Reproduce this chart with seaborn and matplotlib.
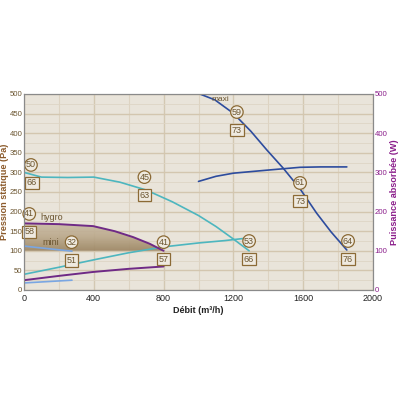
import numpy as np
import pandas as pd
import matplotlib
matplotlib.use("Agg")
import matplotlib.pyplot as plt
import seaborn as sns
from matplotlib.patches import Polygon

# ---- data ----
hp_x = [0, 100, 250, 400, 550, 700, 850, 1000, 1100, 1200, 1290]
hp_y = [300, 288, 287, 288, 275, 255, 225, 190, 162, 130, 100]

lp_x = [0, 200, 400, 600, 800, 1000, 1150, 1270]
lp_y = [40, 58, 77, 95, 110, 120, 126, 132]

maxi_x = [1008, 1094, 1199, 1300, 1392, 1485, 1582, 1677, 1760, 1850]
maxi_y = [500, 485, 451, 405, 357, 311, 258, 196, 148, 102]

pmax_x = [1000, 1100, 1200, 1400, 1582, 1700, 1850]
pmax_y = [277, 290, 298, 306, 313, 314, 314]

hygro_x = [0, 200, 396, 520, 625, 720, 800]
hygro_y = [170, 168, 163, 150, 135, 118, 100]

mini_x = [0, 275]
mini_y = [112, 99]

plow_x = [0, 200, 396, 600, 800]
plow_y = [25, 36, 46, 54, 60]

lblow_x = [0, 275]
lblow_y = [18, 25]

circle_labels = ["50", "41", "32", "45", "41", "53", "59", "61", "64"]
circle_x = [40, 30, 273, 690, 800, 1290, 1220, 1582, 1857]
circle_y = [319, 194, 122, 288, 122, 125, 454, 273, 125]

box_labels = ["66", "58", "51", "63", "57", "66", "73", "73", "76"]
box_x = [46, 30, 273, 690, 800, 1290, 1220, 1582, 1857]
box_y = [273, 148, 76, 242, 79, 79, 408, 227, 79]

x_ticks = [0, 400, 800, 1200, 1600, 2000]
y_ticks = [0, 50, 100, 150, 200, 250, 300, 350, 400, 450, 500]
y2_ticks = [0, 100, 200, 300, 400, 500]

# ---- figure ----
sns.set_theme(style="white")
plt.rcParams['font.family'] = ['Liberation Sans', 'DejaVu Sans']

fig = plt.figure(figsize=(4, 4), dpi=100)
fig.patch.set_facecolor("white")
ax = fig.add_axes([0.06, 0.275, 0.8725, 0.49])
ax.set_facecolor("#E9E4DA")
ax.set_xlim(0, 2000)
ax.set_ylim(0, 500)

# grid
for v in range(0, 2001, 200):
    ax.axvline(v, color="#DDD3C2" if v % 400 else "#D3C8B2", lw=0.8 if v % 400 else 1.0, zorder=0)
for h in range(0, 501, 25):
    ax.axhline(h, color="#DED5C5" if h % 50 else "#D3C6AF", lw=0.6 if h % 50 else 1.0, zorder=0)

# shaded area with vertical gradient
hx = np.array(hygro_x, float)
hy = np.array(hygro_y, float)
verts = list(zip(hx, hy)) + [(hx[-1], 100), (0, 100)]
poly = Polygon(verts, closed=True, facecolor="none", edgecolor="none")
ax.add_patch(poly)
grad = np.linspace(0, 1, 256).reshape(-1, 1)
cmap = matplotlib.colors.LinearSegmentedColormap.from_list("g", ["#9C8562", "#BBA98C", "#CBBDA6"])
im = ax.imshow(grad, extent=[0, 800, 100, 172], aspect="auto", cmap=cmap, zorder=1,
               origin="lower", alpha=0.92)
im.set_clip_path(poly)

def line(xs, ys, color, lw=1.2):
    df = pd.DataFrame({"x": xs, "y": ys})
    sns.lineplot(data=df, x="x", y="y", ax=ax, color=color, lw=lw, sort=False, zorder=3)

cyan = "#4DB6BF"
dblue = "#2D4C9E"
purple = "#6F2A86"
lblue = "#7AA6E2"
line(hp_x, hp_y, cyan)
line(lp_x, lp_y, cyan)
line(maxi_x, maxi_y, dblue)
line(pmax_x, pmax_y, dblue)
line(hygro_x, hygro_y, purple, 1.4)
line(mini_x, mini_y, lblue)
line(plow_x, plow_y, purple, 1.4)
line(lblow_x, lblow_y, lblue)

brown = "#8B6A35"
for t, x, y in zip(circle_labels, circle_x, circle_y):
    ax.text(x, y, t, ha="center", va="center", fontsize=6.5, color="#6B5530", zorder=5,
            bbox=dict(boxstyle="circle,pad=0.14", fc="#EFEAE0", ec=brown, lw=0.9))
for t, x, y in zip(box_labels, box_x, box_y):
    ax.text(x, y, t, ha="center", va="center", fontsize=6.5, color="#6B5530", zorder=5,
            bbox=dict(boxstyle="square,pad=0.2", fc="#EFEAE0", ec=brown, lw=0.9))

ax.text(160, 186, "hygro", fontsize=6.5, color="#6B5530", ha="center", va="center", zorder=5)
ax.text(155, 120, "mini", fontsize=6.5, color="#6B5530", ha="center", va="center", zorder=5)
ax.text(1123, 487, "maxi", fontsize=6, color="#6B5530", ha="center", va="center", zorder=5)

ax.set_xticks(x_ticks)
ax.set_yticks(y_ticks)
ax.tick_params(axis="x", labelsize=6.5, length=0, pad=3, colors="#222222")
ax.tick_params(axis="y", labelsize=5.6, length=0, pad=1.2, colors="#6B5530")
ax.set_xlabel("Débit (m³/h)", fontsize=6.5, fontweight="bold", color="#222222", labelpad=2)
ax.set_ylabel("Pression statique (Pa)", fontsize=6.6, fontweight="bold", color="#8B5A2B")
ax.yaxis.set_label_coords(-0.044, 0.5)
for s in ax.spines.values():
    s.set_color("#8A8A8A")
    s.set_linewidth(0.8)

ax2 = ax.twinx()
ax2.set_ylim(0, 500)
ax2.set_yticks(y2_ticks)
ax2.tick_params(axis="y", labelsize=5.6, length=0, pad=1.2, colors="#8B1E8B")
ax2.set_ylabel("Puissance absorbée (W)", fontsize=6.6, fontweight="bold", color="#8B1E8B")
ax2.yaxis.set_label_coords(1.05, 0.5)
for s in ax2.spines.values():
    s.set_color("#8A8A8A")
    s.set_linewidth(0.8)
ax2.grid(False)

fig.savefig("out.png", dpi=100, facecolor="white")
